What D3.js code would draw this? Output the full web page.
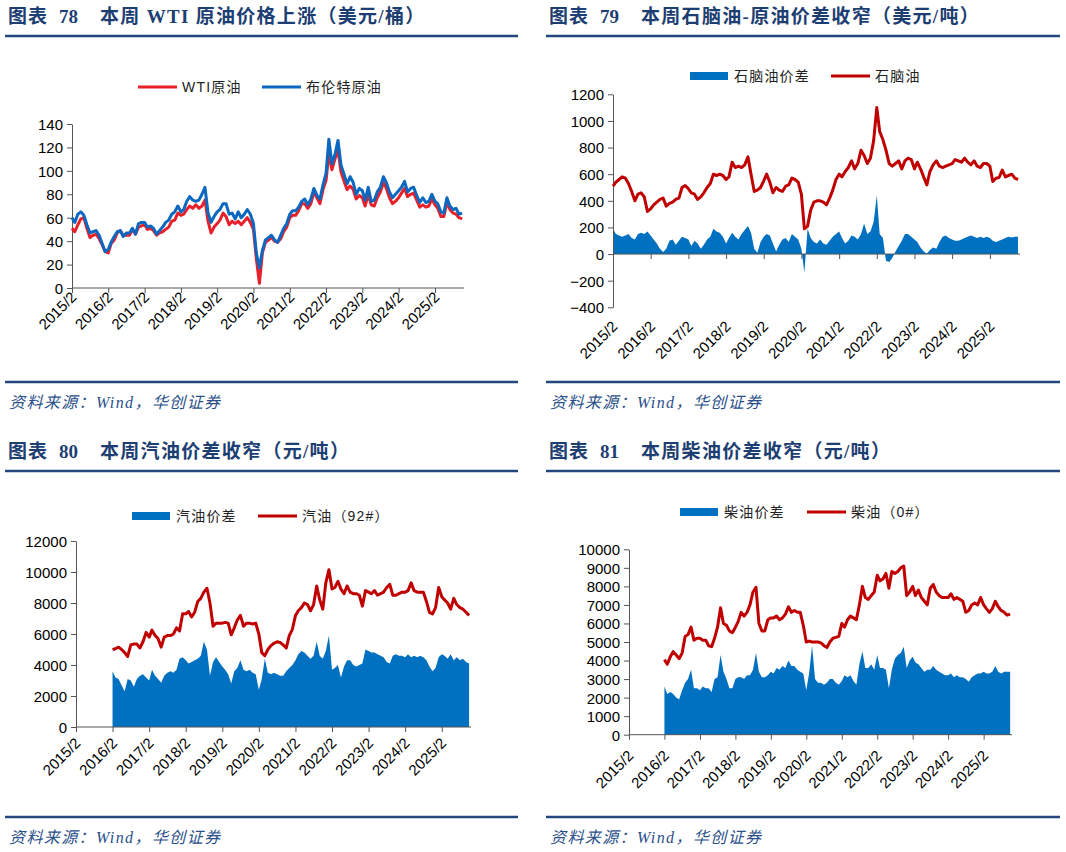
<!DOCTYPE html>
<html>
<head>
<meta charset="utf-8">
<script src="https://cdn.jsdelivr.net/npm/d3@7"></script>
<style>
  body { margin: 0; background: #fff; }
  svg { display: block; }
</style>
</head>
<body>
<svg width="1066" height="852"></svg>
<script>
// x categories: monthly points, first one is 2015/2
const xTickLabels = ["2015/2","2016/2","2017/2","2018/2","2019/2","2020/2","2021/2","2022/2","2023/2","2024/2","2025/2"];

// 美元/桶, 2015/2 .. 2025/11
const brent = [
  60,56,63,65,62,54,47,48,49,45,38,
  31,33,39,44,48,49,44,47,47,51,46,55,
  56,56,52,53,51,46,49,52,56,58,63,65,
  70,65,67,74,78,75,74,75,80,86,64,56,
  61,65,67,72,72,63,64,59,65,60,63,67,
  63,55,30,17,32,41,43,45,41,39,45,51,
  55,63,66,66,69,74,76,71,76,85,79,76,
  88,98,127,106,114,126,105,97,89,95,90,80,
  85,83,75,86,74,75,82,86,95,90,82,77,
  80,83,86,91,82,85,86,79,73,77,73,74,
  80,74,72,65,64,77,70,67,68,63,64
];
const wti = [
  51,48,54,59,60,51,43,45,46,42,37,
  31,30,38,41,47,49,45,45,45,50,46,52,
  53,54,50,51,49,45,47,48,50,52,57,58,
  64,62,63,67,70,68,71,68,70,75,57,47,
  52,55,58,64,61,54,57,55,57,54,57,60,
  56,50,25,4,30,39,41,43,40,39,42,48,
  52,60,62,62,66,72,72,68,72,82,77,72,
  84,92,115,101,110,118,99,91,84,87,84,76,
  79,77,70,80,71,70,77,82,90,85,77,72,
  74,77,81,85,78,80,81,75,69,71,69,70,
  76,71,68,61,61,73,67,64,63,60,59
];

// 美元/吨, 2015/2 .. 2025/11
const naphtha = [
  510,540,560,580,570,530,470,400,450,460,430,
  320,340,370,390,410,420,360,380,390,410,420,500,
  515,490,460,450,410,430,460,500,530,600,590,600,
  590,560,580,690,650,660,650,670,730,600,470,480,
  500,550,600,540,460,500,480,470,510,520,570,560,
  540,450,190,210,330,390,400,400,390,370,420,480,
  560,600,580,620,650,700,640,680,780,740,680,720,
  850,1100,920,860,780,680,660,680,700,640,700,720,
  710,640,690,640,580,520,620,670,700,660,650,660,
  670,680,710,700,690,720,690,670,700,660,650,680,
  680,660,545,570,575,630,580,590,600,570,560
];
const naphthaSpread = [
  190,150,140,130,140,150,120,110,150,160,150,
  170,140,110,80,40,15,40,100,110,70,100,130,
  120,110,60,100,80,40,70,110,130,190,170,160,
  130,80,120,160,130,110,150,180,210,160,40,10,
  90,130,150,140,80,20,70,110,120,90,150,130,
  110,40,-140,190,120,90,80,110,80,70,100,130,
  150,170,120,80,100,140,130,110,150,230,150,170,
  240,440,150,120,-50,-60,-30,20,60,100,150,150,
  130,110,90,50,20,5,30,50,40,90,130,140,
  120,110,100,100,110,120,130,140,130,120,130,120,
  130,120,100,90,100,110,120,130,125,130,130
];

// 元/吨, 2016/2 .. 2025/11
const gasoline = [
  5000,5050,5150,5000,4800,4550,5300,5350,5350,5100,5500,
  6100,5800,6250,5900,5700,5150,5800,5900,5900,6000,6400,6200,
  7300,7300,7450,7100,7400,8100,8300,8700,8950,8000,6500,6700,
  6700,6700,6750,6700,5950,6400,6900,7200,6500,6700,6700,6650,
  6700,6000,4800,4600,5000,5250,5400,5500,5450,5300,5100,5900,
  6300,7200,7500,7700,8000,7900,7500,7900,9100,8200,7600,9300,
  10150,8900,9000,9400,8900,8600,9100,8700,8600,8600,8500,7800,
  8800,8700,8600,8800,8500,8600,8700,9000,9200,8500,8500,8600,
  8700,8700,8800,9300,8800,8700,8700,8700,8100,7400,7300,7700,
  9000,8400,8200,8000,7600,8300,7900,7700,7600,7400,7200
];
const gasolineSpread = [
  3600,3200,3100,2700,2300,3100,3000,2600,3100,3300,3400,
  3200,3000,3700,3300,3100,2850,3300,3500,3600,3500,3700,4400,
  4500,4300,4100,4200,4300,4400,4600,5500,5000,3300,4200,4500,
  4200,3900,3700,3400,2800,3600,3800,4300,3700,3600,3700,3500,
  3400,2400,3100,4400,3500,3400,3500,3400,3300,3300,3600,3800,
  4000,4300,4700,4900,4800,4600,4400,4600,5500,4600,4400,4900,
  5900,3700,3800,4000,3200,3900,4300,4300,4000,3900,4000,4100,
  5000,4900,4800,4800,4700,4600,4500,4200,4100,4600,4700,4600,
  4600,4500,4700,4500,4600,4500,4600,4500,4300,3900,3600,3800,
  4500,4700,4600,4400,4700,4300,4500,4300,4400,4200,4100
];
const diesel = [
  4050,3800,4200,4480,4300,4100,4400,5300,5400,5800,5100,
  5200,5200,5100,5100,4800,4750,5200,5800,6850,6000,5900,5600,
  5500,5800,6100,6600,6400,6600,7000,7700,7950,6000,5600,5600,
  6200,6300,6300,6400,6200,6300,6500,6900,6600,6700,6600,6600,
  5900,5000,5050,5000,5000,5000,4950,4800,4700,5000,5200,5250,
  5300,6000,5800,6200,6400,6300,6200,7000,8000,7400,7300,7500,
  7700,8600,8300,8400,8700,7900,8800,8700,8800,9000,9100,7500,
  7700,8000,7500,7800,7400,7200,7000,7900,8100,7700,7500,7400,
  7400,7400,7600,7300,7400,7300,7200,6600,6700,7000,7100,7000,
  7400,7000,6800,6600,6800,7200,6900,6700,6600,6450,6500
];
const dieselSpread = [
  2600,2200,2300,2200,2000,1900,2400,2800,3000,3500,2500,
  2500,2400,2600,2500,2500,2300,3000,3100,4300,3400,3000,2500,
  2500,3000,3100,3100,3000,3200,3200,3500,4400,3400,3100,3100,
  3200,3400,3300,3600,3500,3700,3600,4000,3700,3700,3500,3400,
  3300,2400,3300,4800,3000,2800,2800,2700,2800,3000,3000,2800,
  2700,2900,3200,3100,3200,2900,2700,3800,4500,3600,3600,3800,
  3500,4300,3600,3600,3500,2500,3500,4100,4300,4400,4750,3600,
  4000,4200,3900,3800,3600,3400,3500,3500,3700,3500,3400,3300,
  3200,3200,3300,3100,3200,3100,3100,3000,2850,3100,3200,3300,
  3300,3400,3300,3300,3400,3700,3400,3300,3400,3400,3400
];

const blue = "#0070c0";
const red = "#c00000";
const navy = "#1d3e72";
const tickFont = '"Liberation Sans", Arial, sans-serif';

const svg = d3.select("svg");
const monthAt = i => new Date(2015, 1 + i, 1);
const xDomain = [new Date(2015, 1, 1), new Date(2025, 10, 20)];
const tickDates = xTickLabels.map((s, i) => new Date(2015 + i, 1, 1));

// title + rules + source
function frame(x, x2, yTitle, num, rest, ySrcLine) {
  const t = svg.append("text")
    .attr("x", x).attr("y", yTitle)
    .attr("font-family", '"Liberation Serif", "Noto Sans CJK SC", serif')
    .attr("font-weight", "bold").attr("font-size", 19).attr("fill", navy);
  t.append("tspan").attr("letter-spacing", 1).text("图表");
  t.append("tspan").attr("x", x + 51).text(num);
  t.append("tspan").attr("x", x + 92).attr("letter-spacing", 1.3).text(rest);
  svg.append("line").attr("x1", x - 3).attr("x2", x2).attr("y1", yTitle + 13).attr("y2", yTitle + 13)
    .attr("stroke", "#23467f").attr("stroke-width", 2.5);
  svg.append("line").attr("x1", x - 3).attr("x2", x2).attr("y1", ySrcLine).attr("y2", ySrcLine)
    .attr("stroke", "#23467f").attr("stroke-width", 2.5);
  svg.append("text").attr("x", x + 1).attr("y", ySrcLine + 26)
    .attr("font-family", '"Liberation Serif", "Noto Sans CJK SC", serif')
    .attr("font-style", "italic").attr("font-size", 16).attr("letter-spacing", 1.4)
    .attr("fill", "#2a4f8a").text("资料来源：Wind，华创证券");
}

frame(8, 518, 23, "78", "本周 WTI 原油价格上涨（美元/桶）", 382);
frame(549, 1060, 23, "79", "本周石脑油-原油价差收窄（美元/吨）", 382);
frame(8, 518, 458, "80", "本周汽油价差收窄（元/吨）", 817);
frame(549, 1060, 458, "81", "本周柴油价差收窄（元/吨）", 817);

function legend(items, y) {
  items.forEach(it => {
    if (it.kind === "area") {
      svg.append("rect").attr("x", it.x).attr("y", y - 4).attr("width", 38).attr("height", 8).attr("fill", it.color);
    } else {
      svg.append("line").attr("x1", it.x).attr("x2", it.x + 39).attr("y1", y).attr("y2", y)
        .attr("stroke", it.color).attr("stroke-width", 3);
    }
    svg.append("text").attr("x", it.x + 44).attr("y", y + 5)
      .attr("font-family", '"Liberation Sans", "Noto Sans CJK SC", sans-serif')
      .attr("font-size", 14).attr("letter-spacing", 1.2).attr("fill", "#222").text(it.label);
  });
}

function panel(o) {
  const x = d3.scaleTime().domain(xDomain).range([o.x0, o.x1]);
  const y = d3.scaleLinear().domain(o.yDomain).range([o.yBottom, o.yTop]);
  const g = svg.append("g");

  if (o.area) {
    const area = d3.area()
      .x((d, i) => x(monthAt(o.start + i)))
      .y0(y(0))
      .y1(d => y(d));
    g.append("path").datum(o.area).attr("fill", blue).attr("d", area);
  }

  // y axis
  const ya = g.append("g").attr("transform", `translate(${o.x0},0)`)
    .call(d3.axisLeft(y).tickValues(o.yTicks).tickSize(5).tickSizeOuter(0).tickPadding(4)
      .tickFormat(d3.format("d")));
  ya.selectAll("path, line").attr("stroke", "#555");
  ya.selectAll("text").attr("dy", "0.36em")
    .attr("font-family", tickFont).attr("font-size", 15).attr("fill", "#000");

  // x axis on the zero line
  const xAxisY = y(0);
  const xa = g.append("g").attr("transform", `translate(0,${xAxisY})`)
    .call(d3.axisBottom(x).tickValues(tickDates).tickSize(5).tickSizeOuter(0)
      .tickFormat((d, i) => xTickLabels[i]));
  xa.selectAll("path, line").attr("stroke", "#555");
  xa.select(".domain").attr("d", `M${o.x0},0H${o.x1}`);
  const labelShift = (o.yBottom - xAxisY) + o.labelOffset;
  xa.selectAll(".tick text")
    .attr("x", 0).attr("y", 0).attr("dy", 0)
    .attr("font-family", tickFont).attr("font-size", 15).attr("fill", "#000")
    .attr("text-anchor", "end")
    .attr("transform", `translate(5,${labelShift}) rotate(-45)`);

  o.lines.forEach(l => {
    const line = d3.line()
      .x((d, i) => x(monthAt(o.start + i)))
      .y(d => y(d));
    g.append("path").datum(l.values).attr("fill", "none")
      .attr("stroke", l.color).attr("stroke-width", l.width)
      .attr("stroke-linejoin", "round").attr("d", line);
  });
}

panel({
  x0: 72, x1: 464, yBottom: 288, yTop: 124, yDomain: [0, 140],
  yTicks: d3.range(0, 141, 20), labelOffset: 10, start: 0,
  lines: [
    { values: wti, color: "#e8202a", width: 3 },
    { values: brent, color: "#0a68c0", width: 3 }
  ]
});
legend([
  { kind: "line", x: 138, color: "#e8202a", label: "WTI原油" },
  { kind: "line", x: 262, color: "#0a68c0", label: "布伦特原油" }
], 87);

panel({
  x0: 613, x1: 1020, yBottom: 307.3, yTop: 94.3, yDomain: [-400, 1200],
  yTicks: d3.range(-400, 1201, 200), labelOffset: 20, start: 0,
  area: naphthaSpread,
  lines: [{ values: naphtha, color: red, width: 3 }]
});
legend([
  { kind: "area", x: 690, color: blue, label: "石脑油价差" },
  { kind: "line", x: 831, color: red, label: "石脑油" }
], 76);

panel({
  x0: 76, x1: 471, yBottom: 727, yTop: 541, yDomain: [0, 12000],
  yTicks: d3.range(0, 12001, 2000), labelOffset: 17, start: 12,
  area: gasolineSpread,
  lines: [{ values: gasoline, color: red, width: 3 }]
});
legend([
  { kind: "area", x: 132, color: blue, label: "汽油价差" },
  { kind: "line", x: 258, color: red, label: "汽油（92#）" }
], 516);

panel({
  x0: 629, x1: 1012, yBottom: 734.7, yTop: 549.3, yDomain: [0, 10000],
  yTicks: d3.range(0, 10001, 1000), labelOffset: 22, start: 12,
  area: dieselSpread,
  lines: [{ values: diesel, color: red, width: 3 }]
});
legend([
  { kind: "area", x: 680, color: blue, label: "柴油价差" },
  { kind: "line", x: 807, color: red, label: "柴油（0#）" }
], 512);
</script>
</body>
</html>
